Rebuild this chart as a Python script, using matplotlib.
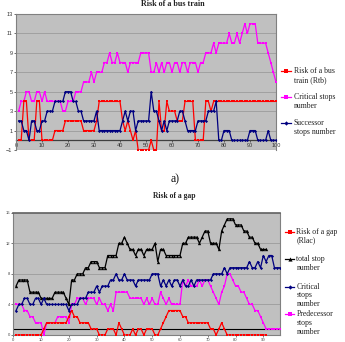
import numpy as np
import matplotlib.pyplot as plt
from matplotlib.lines import Line2D

# ---- top chart: risk of a bus train (x = 1..100)
rtb = [0, 0, 4, 4, 0, 0, 0, 4, 4, 0,
       0, 0, 0, 0, 1, 1, 1, 1, 2, 2,
       2, 2, 2, 2, 2, 1, 1, 1, 1, 1,
       2, 4, 4, 4, 4, 4, 4, 4, 4, 4,
       2, 1, 2, 1, 0, 1, -1, -1, -1, -1,
       -1, 0, -1, -1, 4, 1, 1, 4, 3, 3,
       3, 2, 2, 2, 4, 4, 4, 4, 0, 0,
       0, 0, 4, 4, 3, 4, 4, 4, 4, 4,
       4, 4, 4, 4, 4, 4, 4, 4, 4, 4,
       4, 4, 4, 4, 4, 4, 4, 4, 4, 4]
critical_top = [3, 4, 4, 5, 5, 4, 4, 5, 5, 4,
                5, 4, 4, 4, 4, 4, 4, 3, 3, 4,
                4, 4, 5, 5, 5, 6, 6, 6, 7, 6,
                7, 7, 7, 8, 8, 9, 8, 8, 9, 8,
                8, 8, 7, 8, 8, 8, 8, 9, 9, 9,
                9, 7, 7, 8, 7, 8, 7, 8, 8, 7,
                8, 8, 7, 8, 8, 7, 8, 8, 8, 7,
                8, 8, 9, 9, 9, 10, 9, 10, 10, 10,
                10, 11, 10, 10, 11, 10, 11, 12, 11, 12,
                12, 12, 10, 10, 10, 10, 9, 8, 7, 6]
successor = [2, 2, 1, 1, 0, 2, 2, 1, 1, 2,
             2, 3, 3, 3, 4, 4, 4, 4, 5, 5,
             5, 4, 4, 3, 3, 2, 2, 2, 2, 2,
             3, 1, 1, 1, 1, 1, 1, 1, 1, 1,
             2, 3, 2, 3, 3, 1, 2, 2, 2, 2,
             2, 5, 3, 3, 2, 1, 2, 1, 2, 2,
             2, 2, 3, 3, 2, 1, 1, 1, 1, 2,
             2, 2, 2, 3, 3, 3, 4, 0, 0, 1,
             1, 1, 0, 0, 0, 0, 0, 0, 0, 1,
             1, 1, 0, 0, 0, 0, 1, 0, 0, 0]

# ---- bottom chart: risk of a gap
rlac = [0, 0, 0, 0, 0, 0, 0, 0, 0, 0,
        0.8, 1.6, 1.6, 1.6, 1.6, 1.6, 1.6, 1.6, 1.6, 2.4,
        3.2, 2.4, 2.4, 1.6, 1.6, 1.6, 1.6, 0.8, 0.8, 0.8,
        0, 0, 0, 0.8, 0.8, 0.8, 0, 1.6, 0.8, 0,
        0, 0, 0.8, 0, 0.8, 0.8, 0, 0.8, 0.8, 0.8,
        0, 0, 0.8, 1.6, 2.4, 3.2, 3.2, 3.2, 3.2, 3.2,
        2.4, 2.4, 1.6, 1.6, 1.6, 1.6, 1.6, 1.6, 1.6, 1.6,
        0.8, 0.8, 0, 0.8, 1.6, 0.8, 0, 0, 0, 0,
        0, 0, 0, 0, 0, 0, 0, 0, 0, 0, 0]
total = [6.4, 7.2, 7.2, 7.2, 7.2, 5.6, 5.6, 5.6, 5.6, 4.8,
         4.8, 4.8, 4.8, 4.8, 5.6, 5.6, 5.6, 5.6, 4.8, 4.0,
         7.2, 7.2, 8.0, 8.0, 8.0, 8.8, 8.8, 9.6, 9.6, 9.6,
         8.8, 8.8, 8.8, 10.4, 10.4, 10.4, 10.4, 12.0, 12.0, 12.8,
         12.0, 11.2, 11.2, 10.4, 11.2, 11.2, 10.4, 11.2, 11.2, 11.2,
         12.0, 9.6, 11.2, 11.2, 10.4, 10.4, 10.4, 10.4, 10.4, 10.4,
         12.0, 12.0, 12.8, 12.8, 12.8, 12.8, 12.0, 12.8, 13.6, 13.6,
         12.0, 12.0, 12.0, 11.2, 13.6, 14.4, 15.2, 15.2, 15.2, 14.4,
         14.4, 14.4, 13.6, 13.6, 12.8, 12.8, 12.0, 12.0, 11.2, 11.2, 11.2]
critical_bot = [3.2, 4.0, 4.0, 4.8, 4.8, 4.0, 4.0, 4.8, 4.8, 4.0,
                4.8, 4.0, 4.0, 4.0, 4.0, 4.0, 4.0, 4.0, 4.0, 3.2,
                4.0, 4.0, 4.0, 4.8, 4.8, 4.8, 5.6, 5.6, 5.6, 6.4,
                5.6, 6.4, 6.4, 6.4, 7.2, 7.2, 8.0, 7.2, 7.2, 8.0,
                7.2, 7.2, 7.2, 6.4, 7.2, 7.2, 7.2, 7.2, 7.2, 8.0,
                8.0, 8.0, 6.4, 7.2, 6.4, 7.2, 6.4, 7.2, 7.2, 6.4,
                7.2, 6.4, 6.4, 7.2, 6.4, 7.2, 7.2, 7.2, 7.2, 7.2,
                7.2, 8.0, 8.0, 8.0, 8.0, 8.8, 8.0, 8.8, 8.8, 8.8,
                8.8, 8.8, 8.8, 8.8, 9.6, 8.8, 8.8, 9.6, 8.8, 10.4,
                9.6, 10.4, 10.4, 8.8, 8.8, 8.8]
predecessor = [4.0, 4.0, 4.0, 3.2, 3.2, 2.4, 2.4, 1.6, 1.6, 1.6,
               0, 1.6, 1.6, 1.6, 1.6, 2.4, 2.4, 2.4, 2.4, 1.6,
               4.0, 4.0, 4.8, 4.8, 4.8, 4.0, 4.8, 4.8, 4.8, 4.0,
               4.8, 4.0, 4.0, 3.2, 4.0, 3.2, 5.6, 5.6, 5.6, 5.6,
               5.6, 4.8, 4.8, 4.8, 4.8, 4.8, 4.0, 4.8, 4.0, 4.8,
               4.0, 4.0, 5.6, 4.8, 4.0, 4.8, 4.0, 4.0, 4.0, 4.0,
               7.2, 6.4, 7.2, 6.4, 6.4, 6.4, 7.2, 6.4, 7.2, 7.2,
               6.4, 5.6, 4.8, 4.0, 5.6, 6.4, 8.0, 8.0, 7.2, 6.4,
               6.4, 5.6, 5.6, 4.8, 4.0, 4.0, 3.2, 3.2, 2.4, 1.6,
               0.8, 0.8, 0.8, 0.8, 0.8, 0.8]
ref_level = 0.8

W, H = 345, 342


def fx(px):
    return px / W


def fy(py):
    return 1 - py / H


plot_bg = '#c0c0c0'
grid_c = '#9c9c9c'
border_c = '#808080'
serif = ['Liberation Serif', 'DejaVu Serif']
sans = ['Liberation Sans', 'DejaVu Sans']

fig = plt.figure(figsize=(W / 100, H / 100), dpi=100)
fig.patch.set_facecolor('white')

# ---------------- top chart
ax1 = fig.add_axes([fx(16), fy(150), fx(276) - fx(16), fy(14) - fy(150)])
ax1.set_facecolor(plot_bg)
x_top = np.arange(1, len(rtb) + 1)
ax1.plot(x_top, rtb, color='#ff0000', lw=0.9, marker='s', ms=1.6, mew=0, zorder=4)
ax1.plot(x_top, critical_top, color='#ff00ff', lw=0.9, marker='s', ms=2.0, mew=0, zorder=3)
ax1.plot(x_top, successor, color='#000080', lw=0.9, marker='D', ms=1.6, mew=0, zorder=5)
ax1.set_xlim(0, 100)
ax1.set_ylim(-1, 13)
ax1.set_yticks(range(-1, 14, 2))
ax1.set_xticks(range(0, 101, 10))
for v in range(1, 13, 2):
    ax1.axhline(v, color=grid_c, lw=0.6, zorder=1)
ax1.axhline(-1, color=border_c, lw=0.8, zorder=1)
for s in ['top', 'left', 'right']:
    ax1.spines[s].set_color(border_c)
    ax1.spines[s].set_linewidth(0.8)
ax1.spines['bottom'].set_position(('data', 0))
ax1.spines['bottom'].set_color('#404040')
ax1.spines['bottom'].set_linewidth(0.9)
ax1.spines['bottom'].set_zorder(2)
ax1.tick_params(axis='both', labelsize=4, colors='#333333', length=1.5, width=0.5, pad=1)
ax1.tick_params(axis='x', direction='out', pad=0.8)
for lab in ax1.get_xticklabels() + ax1.get_yticklabels():
    lab.set_family(sans)

# title sits at the very top edge, as in the source page
fig.text(0.5, fy(4.2), 'Risk of a bus train', ha='center', va='center',
         fontsize=5.8, fontweight='bold', family=serif, color='#222222')

# ---------------- bottom chart
ax2 = fig.add_axes([fx(13.3), fy(335), fx(280) - fx(13.3), fy(212.7) - fy(335)])
ax2.set_facecolor(plot_bg)
ax2.plot(np.arange(1, len(rlac) + 1), rlac, color='#ff0000', lw=0.9,
         marker='s', ms=1.6, mew=0, zorder=5)
ax2.plot(np.arange(1, len(total) + 1), total, color='black', lw=0.9,
         marker='^', ms=2.4, mew=0, zorder=4)
ax2.plot(np.arange(1, len(critical_bot) + 1), critical_bot, color='#000080', lw=0.9,
         marker='D', ms=1.6, mew=0, zorder=4)
ax2.plot(np.arange(1, len(predecessor) + 1), predecessor, color='#ff00ff', lw=0.9,
         marker='s', ms=2.0, mew=0, zorder=3)
ax2.axhline(ref_level, color='black', lw=0.8, zorder=2)
ax2.set_xlim(0, 96)
ax2.set_ylim(0, 16)
ax2.set_yticks(range(0, 17, 4))
ax2.set_xticks(range(0, 91, 10))
for v in range(4, 16, 4):
    ax2.axhline(v, color=grid_c, lw=0.6, zorder=1)
for s in ['left', 'right', 'bottom']:
    ax2.spines[s].set_color(border_c)
    ax2.spines[s].set_linewidth(0.8)
ax2.spines['top'].set_color('#606060')
ax2.spines['top'].set_linewidth(1.2)
ax2.tick_params(axis='both', labelsize=3, colors='#444444', length=1.2, width=0.5, pad=1)
for lab in ax2.get_xticklabels() + ax2.get_yticklabels():
    lab.set_family(sans)

fig.text(fx(175), fy(179), 'a)', ha='center', va='center', fontsize=8.5,
         family=serif, color='#111111')
fig.text(fx(174), fy(196), 'Risk of a gap', ha='center', va='center',
         fontsize=5.5, fontweight='bold', family=serif, color='#222222')


# ---------------- legends (drawn by hand, key beside the first text line)
def legend_entry(x0, x1, y, text, color, marker, ms):
    fig.add_artist(Line2D([fx(x0), fx((x0 + x1) / 2), fx(x1)], [fy(y)] * 3,
                          transform=fig.transFigure, color=color, lw=0.9,
                          marker=marker, ms=ms, mew=0, markevery=[1]))
    for i, line in enumerate(text.split('\n')):
        fig.text(fx(x1 + 2.5), fy(y + i * step_px), line, ha='left', va='center',
                 fontsize=5.6, family=serif, color='#222222')


step_px = 9.5
legend_entry(281, 291, 71, 'Risk of a bus\ntrain (Rtb)', '#ff0000', 's', 2.2)
legend_entry(281, 291, 97, 'Critical stops\nnumber', '#ff00ff', 's', 2.6)
legend_entry(281, 291, 123, 'Successor\nstops number', '#000080', 'D', 2.2)

step_px = 8.6
legend_entry(285, 294, 231.7, 'Risk of a gap\n(Rlac)', '#ff0000', 's', 2.2)
legend_entry(285, 294, 259.3, 'total stop\nnumber', 'black', '^', 3.0)
legend_entry(285, 294, 286.7, 'Critical\nstops\nnumber', '#000080', 'D', 2.2)
legend_entry(285, 294, 314.3, 'Predecessor\nstops\nnumber', '#ff00ff', 's', 2.6)

fig.savefig('out.png', dpi=100)
